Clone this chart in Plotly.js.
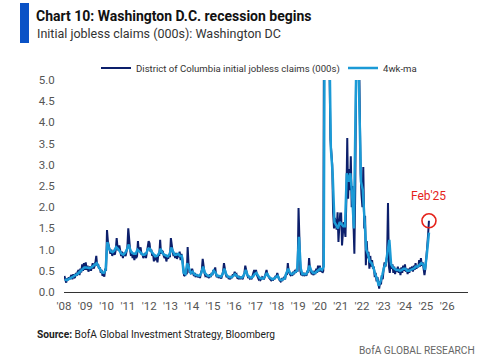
<!DOCTYPE html>
<html>
<head>
<meta charset="utf-8">
<script src="https://cdn.plot.ly/plotly-3.0.1.min.js"></script>
<style>html,body{margin:0;padding:0;background:#fff;}#chart{width:500px;height:363px;}</style>
</head>
<body>
<div id="chart"></div>
<script>
// ---- DATA (values in thousands) ----
// Weekly-ish readings: two per month (around the 8th and 23rd)
var years = [2008,2009,2010,2011,2012,2013,2014,2015,2016,2017,2018,2019,2020,2021,2022,2023,2024,2025];

var raw2008 = [0.38,0.25,0.22,0.32,0.28,0.35,0.30,0.36,0.40,0.30,0.42,0.33,0.35,0.45,0.38,0.48,0.52,0.40,0.55,0.46,0.65,0.50,0.68,0.52];
var raw2009 = [0.70,0.52,0.62,0.48,0.55,0.60,0.50,0.62,0.68,0.55,0.60,0.70,0.85,0.62,0.66,0.55,0.58,0.45,0.52,0.38,0.45,0.36,0.55,0.50];
var raw2010 = [1.46,1.20,1.05,0.95,0.90,1.00,0.85,0.95,0.92,0.88,1.00,1.27,1.05,0.98,1.10,0.90,0.85,0.95,0.80,0.92,0.88,0.85,0.95,1.05];
var raw2011 = [1.50,1.10,1.00,0.85,0.95,0.80,0.88,0.75,0.92,0.80,0.85,1.20,0.95,1.00,1.05,0.88,0.90,0.80,0.85,0.92,0.80,0.95,1.05,1.20];
var raw2012 = [1.15,0.95,1.00,0.85,0.90,0.72,0.88,0.75,0.82,0.70,0.90,0.85,1.23,0.90,0.98,0.95,0.85,0.80,0.88,0.72,0.85,0.78,0.90,0.82];
var raw2013 = [1.27,1.05,0.95,0.85,0.90,0.80,0.92,0.78,0.88,0.82,0.95,0.75,0.90,0.80,0.45,0.38,0.40,0.45,0.42,1.06,0.65,0.45,0.50,0.42];
var raw2014 = [0.55,0.42,0.38,0.45,0.35,0.42,0.38,0.35,0.40,0.33,0.45,0.52,0.78,0.55,0.45,0.38,0.40,0.35,0.38,0.33,0.42,0.35,0.45,0.40];
var raw2015 = [0.52,0.48,0.58,0.40,0.35,0.40,0.33,0.38,0.35,0.32,0.40,0.48,0.68,0.50,0.42,0.35,0.38,0.33,0.35,0.30,0.38,0.33,0.42,0.38];
var raw2016 = [0.48,0.40,0.42,0.33,0.32,0.38,0.30,0.36,0.33,0.30,0.38,0.45,0.62,0.48,0.42,0.35,0.36,0.32,0.35,0.30,0.38,0.40,0.52,0.45];
var raw2017 = [0.52,0.40,0.35,0.30,0.32,0.28,0.30,0.35,0.33,0.30,0.36,0.42,0.52,0.40,0.38,0.33,0.30,0.28,0.32,0.27,0.33,0.30,0.38,0.35];
var raw2018 = [0.45,0.33,0.30,0.27,0.25,0.30,0.28,0.33,0.35,0.30,0.45,0.40,0.68,0.48,0.45,0.40,0.42,0.38,0.48,0.42,0.52,0.45,0.55,0.48];
var raw2019 = [1.98,1.10,0.50,0.40,0.42,0.38,0.45,0.40,0.42,0.38,0.50,0.45,0.80,0.55,0.50,0.42,0.45,0.40,0.50,0.42,0.55,0.45,0.62,0.48];
var raw2020 = [0.62,0.48,0.55,0.45,0.50,8.00,16.0,14.0,11.0,9.00,7.00,5.20,3.60,3.20,3.00,1.88,1.50,1.75,1.60,1.47,1.88,1.18,1.55,1.85];
var raw2021 = [1.85,1.10,1.40,1.65,1.50,1.30,2.20,3.63,2.20,2.90,2.40,3.20,2.00,2.50,1.60,0.90,2.50,7.00,8.50,7.50,6.00,3.50,2.80,2.30];
var raw2022 = [2.00,2.95,1.50,1.80,0.63,1.20,0.80,0.95,0.55,0.85,0.60,0.75,0.55,0.60,0.35,0.45,0.25,0.35,0.15,0.08,0.25,0.18,0.40,0.30];
var raw2023 = [0.55,0.70,0.60,0.75,0.85,2.10,0.60,0.45,0.70,0.55,0.65,0.45,0.60,0.42,0.55,0.48,0.60,0.45,0.55,0.40,0.58,0.45,0.62,0.50];
var raw2024 = [0.65,0.48,0.55,0.42,0.55,0.45,0.58,0.50,0.60,0.48,0.62,0.52,0.68,0.55,0.62,0.58,0.75,0.60,0.80,0.62,0.70,0.55,0.40,0.55];
var raw2025 = [0.75,1.05,1.35,1.68];

// 4-week moving average, one reading per month (mid-month)
var ma2008 = [0.30,0.28,0.30,0.32,0.35,0.37,0.40,0.42,0.46,0.50,0.56,0.58];
var ma2009 = [0.58,0.56,0.56,0.58,0.62,0.64,0.68,0.60,0.52,0.46,0.45,0.52];
var ma2010 = [1.18,1.02,0.96,0.94,0.98,1.06,1.02,0.95,0.90,0.88,0.92,1.00];
var ma2011 = [1.12,0.98,0.92,0.90,0.90,1.00,0.96,0.92,0.88,0.88,0.92,1.02];
var ma2012 = [1.02,0.94,0.88,0.84,0.85,0.90,1.02,0.92,0.88,0.85,0.84,0.88];
var ma2013 = [1.05,0.95,0.88,0.88,0.90,0.85,0.85,0.45,0.42,0.68,0.55,0.45];
var ma2014 = [0.48,0.42,0.40,0.38,0.38,0.45,0.60,0.45,0.40,0.38,0.38,0.42];
var ma2015 = [0.50,0.45,0.38,0.38,0.36,0.42,0.55,0.42,0.36,0.35,0.35,0.38];
var ma2016 = [0.42,0.38,0.35,0.34,0.34,0.40,0.52,0.40,0.35,0.34,0.36,0.42];
var ma2017 = [0.45,0.38,0.33,0.32,0.32,0.38,0.45,0.36,0.32,0.30,0.32,0.36];
var ma2018 = [0.38,0.30,0.28,0.30,0.32,0.45,0.55,0.45,0.42,0.45,0.48,0.50];
var ma2019 = [1.30,0.55,0.42,0.42,0.42,0.48,0.62,0.50,0.45,0.45,0.48,0.52];
var ma2020 = [0.55,0.52,0.60,12.0,10.0,6.50,3.40,2.80,1.65,1.58,1.50,1.65];
var ma2021 = [1.60,1.55,1.55,2.80,2.60,2.80,2.30,1.50,4.50,7.00,4.50,2.60];
var ma2022 = [2.40,1.65,1.00,0.88,0.72,0.68,0.58,0.42,0.32,0.15,0.25,0.40];
var ma2023 = [0.58,0.68,0.90,1.23,0.65,0.58,0.55,0.52,0.52,0.50,0.52,0.55];
var ma2024 = [0.55,0.50,0.50,0.53,0.54,0.56,0.60,0.60,0.65,0.68,0.65,0.52];
var ma2025 = [0.85,1.15,1.40];
var maDates2025 = ['2025-01-15','2025-02-12','2025-02-23'];

var rawByYear = [raw2008,raw2009,raw2010,raw2011,raw2012,raw2013,raw2014,raw2015,raw2016,raw2017,raw2018,raw2019,raw2020,raw2021,raw2022,raw2023,raw2024,raw2025];
var maByYear = [ma2008,ma2009,ma2010,ma2011,ma2012,ma2013,ma2014,ma2015,ma2016,ma2017,ma2018,ma2019,ma2020,ma2021,ma2022,ma2023,ma2024];

var seriesNames = ['District of Columbia initial jobless claims (000s)', '4wk-ma'];
var yTicks = [0,0.5,1,1.5,2,2.5,3,3.5,4,4.5,5];
var highlightLabel = "Feb'25";

// ---- build x/y ----
function pad(n){return (n<10?'0':'')+n;}
var rawX=[], rawY=[], maX=[], maY=[];
years.forEach(function(y,i){
  rawByYear[i].forEach(function(v,j){
    var m = Math.floor(j/2)+1, d = (j%2)?23:8;
    rawX.push(y+'-'+pad(m)+'-'+pad(d)); rawY.push(v);
  });
  if (i < maByYear.length) {
    maByYear[i].forEach(function(v,j){ maX.push(y+'-'+pad(j+1)+'-15'); maY.push(v); });
  }
});
ma2025.forEach(function(v,j){ maX.push(maDates2025[j]); maY.push(v); });

var FONT = 'Roboto, sans-serif';
var W=500,H=363, L=64, R=32, T=80, B=71;
var pw=W-L-R, ph=H-T-B;
function px2x(px){return (px-L)/pw;}
function px2y(py){return (H-B-py)/ph;}

var traces = [
  {x: rawX, y: rawY, name: seriesNames[0], type:'scatter', mode:'lines', legend:'legend',
   line:{color:'#0c1f6b', width:2}, hoverinfo:'skip'},
  {x: maX, y: maY, name: seriesNames[1], type:'scatter', mode:'lines', legend:'legend2',
   line:{color:'#1b9ad6', width:2.5}, hoverinfo:'skip'}
];

var lastX = rawX[rawX.length-1], lastY = rawY[rawY.length-1];
var legendFont = {family:FONT, size:9.6, color:'#333'};

var layout = {
  width:W, height:H,
  margin:{l:L, r:R, t:T, b:B, pad:0},
  paper_bgcolor:'#fff', plot_bgcolor:'#fff',
  showlegend:true,
  title:{text:'<b>Chart 10: Washington D.C. recession begins</b>', xref:'container', yref:'container',
         x:36/W, xanchor:'left', y:1-16/H, yanchor:'middle',
         font:{family:FONT, size:14, color:'#111'}},
  xaxis:{type:'date', range:['2008-01-01','2026-12-25'], tick0:'2008-01-01', dtick:'M12',
         tickformat:"'%y", showgrid:false, zeroline:false, showline:true, linecolor:'#333', linewidth:1,
         ticks:'outside', ticklen:3, tickcolor:'rgba(0,0,0,0)',
         tickfont:{family:FONT, size:11.5, color:'#555'}, fixedrange:true},
  yaxis:{range:[0,5], tickvals:yTicks, tickformat:'.1f', showgrid:false, zeroline:false, showline:false,
         ticks:'outside', ticklen:6, tickcolor:'rgba(0,0,0,0)',
         tickfont:{family:FONT, size:11.5, color:'#555'}, fixedrange:true},
  legend:{orientation:'h', x:px2x(96), xanchor:'left', y:px2y(68), yanchor:'middle',
          font:legendFont, bgcolor:'rgba(0,0,0,0)', itemwidth:30},
  legend2:{orientation:'h', x:px2x(343), xanchor:'left', y:px2y(68), yanchor:'middle',
          font:legendFont, bgcolor:'rgba(0,0,0,0)', itemwidth:30},
  shapes:[
    {type:'rect', xref:'paper', yref:'paper', x0:px2x(20), x1:px2x(29), y0:px2y(43), y1:px2y(3),
     fillcolor:'#0a52c6', line:{width:0}, layer:'above'},
    {type:'circle', xref:'x', yref:'y', xsizemode:'pixel', ysizemode:'pixel',
     xanchor:lastX, yanchor:lastY, x0:-7, x1:7, y0:-7, y1:7,
     line:{color:'#e5231b', width:1.6}, fillcolor:'rgba(0,0,0,0)'}
  ],
  annotations:[
    {text:'Initial jobless claims (000s): Washington DC', xref:'paper', yref:'paper',
     x:px2x(35), y:px2y(34), xanchor:'left', yanchor:'middle', showarrow:false,
     font:{family:FONT, size:12.5, color:'#333'}},
    {text:'<b>Source:</b> BofA Global Investment Strategy, Bloomberg', xref:'paper', yref:'paper',
     x:px2x(35), y:px2y(334), xanchor:'left', yanchor:'middle', showarrow:false,
     font:{family:FONT, size:10.2, color:'#222'}},
    {text:'BofA GLOBAL RESEARCH', xref:'paper', yref:'paper',
     x:px2x(477), y:px2y(350), xanchor:'right', yanchor:'middle', showarrow:false,
     font:{family:FONT, size:10.2, color:'#666'}},
    {text:highlightLabel, xref:'x', yref:'y', x:lastX, y:lastY, yshift:16, xshift:0,
     xanchor:'center', yanchor:'bottom', showarrow:false,
     font:{family:FONT, size:12, color:'#e5231b'}}
  ]
};

Plotly.newPlot('chart', traces, layout, {staticPlot:true, displayModeBar:false});
</script>
</body>
</html>
